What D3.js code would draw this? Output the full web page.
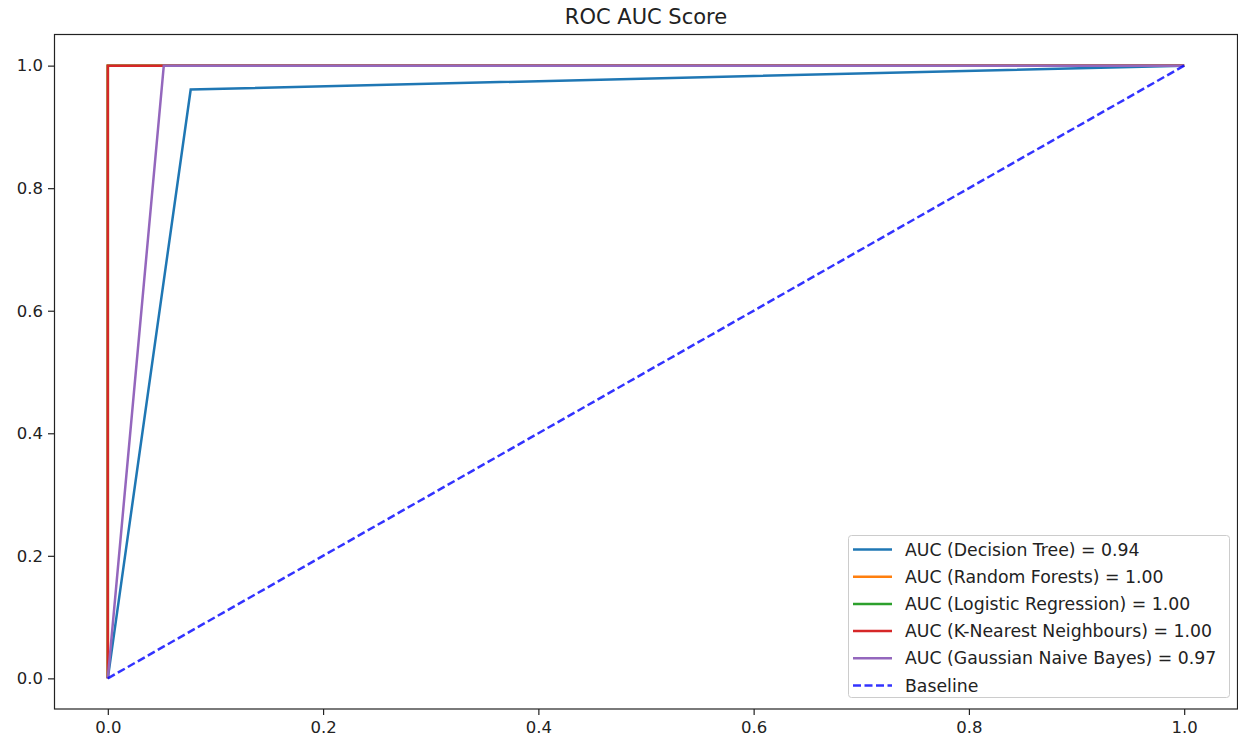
<!DOCTYPE html>
<html><head><meta charset="utf-8">
<script src="https://cdn.jsdelivr.net/npm/d3@7"></script>
<style>body{margin:0;background:#fff;} text{font-family:"DejaVu Sans",sans-serif;}</style>
</head><body><svg id="c" width="1238" height="742"></svg>
<script>
const seriesNames = ["AUC (Decision Tree) = 0.94","AUC (Random Forests) = 1.00","AUC (Logistic Regression) = 1.00","AUC (K-Nearest Neighbours) = 1.00","AUC (Gaussian Naive Bayes) = 0.97"];
const seriesColors = ["#1f77b4","#ff7f0e","#2ca02c","#d62728","#9467bd"];
const fprDT = [0, 0.077, 1], tprDT = [0, 0.961, 1];
const fprRF = [0, 0, 1], tprRF = [0, 1, 1];
const fprLR = [0, 0, 1], tprLR = [0, 1, 1];
const fprKNN = [0, 0, 1], tprKNN = [0, 1, 1];
const fprGNB = [0, 0.052, 1], tprGNB = [0, 1, 1];
const baselineX = [0, 1], baselineY = [0, 1];
const baselineName = "Baseline";
const tickValues = [0, 0.2, 0.4, 0.6, 0.8, 1.0];
const title = "ROC AUC Score";

const svg = d3.select("#c");
const L = 54, R = 1238, T = 35, B = 709;
const x = d3.scaleLinear().domain([-0.05, 1.05]).range([L, R]);
const y = d3.scaleLinear().domain([-0.05, 1.05]).range([B, T]);

const allSeries = [[fprDT,tprDT],[fprRF,tprRF],[fprLR,tprLR],[fprKNN,tprKNN],[fprGNB,tprGNB]];
const line = d3.line().x(d=>x(d[0])).y(d=>y(d[1]));

const fs = 16.5, lfs = 17.3;
svg.append("g").attr("transform",`translate(0,${B})`)
  .call(d3.axisBottom(x).tickValues(tickValues).tickFormat(d3.format(".1f")).tickSize(6).tickPadding(6))
  .call(g=>{g.select(".domain").remove(); g.selectAll("text").attr("font-size",fs).attr("fill","#222").attr("font-family","DejaVu Sans"); g.selectAll("line").attr("stroke","#222").attr("stroke-width",1.2);});
svg.append("g").attr("transform",`translate(${L},0)`)
  .call(d3.axisLeft(y).tickValues(tickValues).tickFormat(d3.format(".1f")).tickSize(6).tickPadding(5))
  .call(g=>{g.select(".domain").remove(); g.selectAll("text").attr("font-size",fs).attr("fill","#222").attr("font-family","DejaVu Sans"); g.selectAll("line").attr("stroke","#222").attr("stroke-width",1.2);});

allSeries.forEach((s,i)=>{
  const pts = s[0].map((v,j)=>[v, s[1][j]]);
  svg.append("path").attr("d", line(pts)).attr("fill","none").attr("stroke",seriesColors[i]).attr("stroke-width",2.5);
});
svg.append("path").attr("d", line(baselineX.map((v,j)=>[v, baselineY[j]])))
  .attr("fill","none").attr("stroke","#0000ff").attr("stroke-opacity",0.8).attr("stroke-width",2.5).attr("stroke-dasharray","8,3.5");

svg.append("rect").attr("x",L+0.5).attr("y",T-0.5).attr("width",R-L-1).attr("height",B-T+0.5)
  .attr("fill","none").attr("stroke","#222").attr("stroke-width",1.2);

svg.append("text").attr("x",(L+R)/2).attr("y",24).attr("text-anchor","middle").attr("font-size",21).attr("fill","#222").text(title);

// legend
const lg = svg.append("g");
lg.append("rect").attr("x",848.5).attr("y",535.5).attr("width",381).attr("height",162).attr("rx",3)
  .attr("fill","#fff").attr("fill-opacity",0.8).attr("stroke","#ccc");
const names = seriesNames.concat([baselineName]);
names.forEach((n,i)=>{
  const yy = 549.5 + i*27.2;
  lg.append("line").attr("x1",853).attr("x2",892).attr("y1",yy).attr("y2",yy)
    .attr("stroke", i<5?seriesColors[i]:"#0000ff").attr("stroke-width",2.5)
    .attr("stroke-opacity", i<5?1:0.8)
    .attr("stroke-dasharray", i<5?null:"8,3.5");
  lg.append("text").attr("x",905).attr("y",yy+6).attr("font-size",lfs).attr("fill","#222").text(n);
});
</script></body></html>
